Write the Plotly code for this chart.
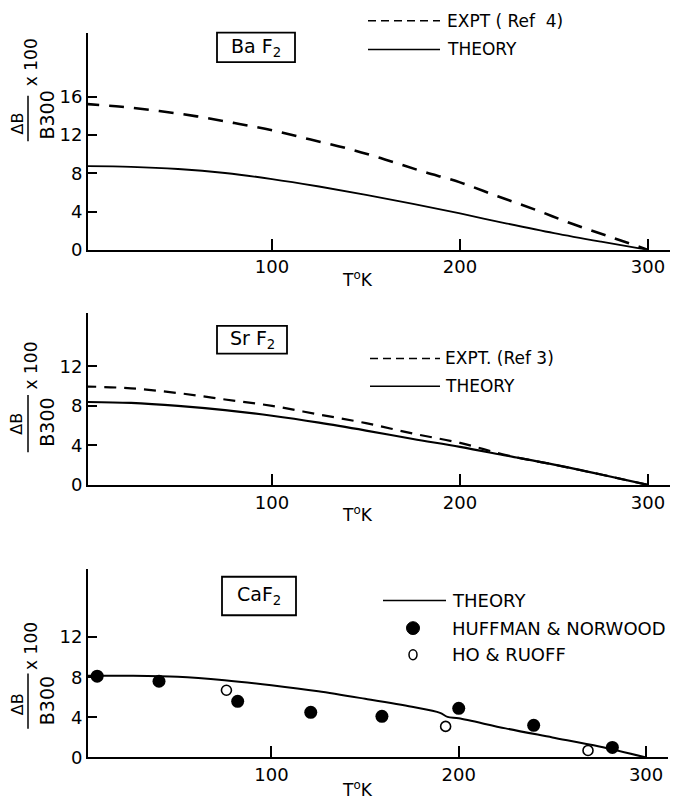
import plotly.graph_objects as go

W, H = 673, 806

# ---------------- data ----------------
baf2_T_expt = [0, 20, 40, 60, 80, 100, 120, 140, 160, 180, 200, 220, 240, 260, 280, 300]
baf2_expt = [15.25, 14.95, 14.5, 13.95, 13.25, 12.5, 11.55, 10.6, 9.45, 8.2, 7.05, 5.6, 4.2, 2.7, 1.35, 0]
baf2_T_theory = [0, 25, 50, 75, 100, 125, 150, 175, 200, 225, 250, 275, 300]
baf2_theory = [8.75, 8.68, 8.45, 8.03, 7.4, 6.62, 5.75, 4.8, 3.8, 2.75, 1.75, 0.85, 0]

srf2_T = [0, 25, 50, 75, 100, 125, 150, 175, 200, 225, 250, 275, 300]
srf2_expt = [9.97, 9.78, 9.3, 8.65, 8.0, 7.13, 6.25, 5.2, 4.25, 3.0, 2.05, 1.05, 0]
srf2_theory = [8.4, 8.3, 8.0, 7.57, 7.0, 6.3, 5.5, 4.65, 3.85, 2.95, 2.05, 1.05, 0]

caf2_T_theory = [0, 25, 50, 75, 100, 125, 150, 175, 190, 194, 200, 225, 250, 275, 300]
caf2_theory = [8.15, 8.15, 8.05, 7.7, 7.2, 6.6, 5.85, 5.05, 4.45, 4.05, 3.9, 2.9, 2.0, 1.1, 0]

hn_T = [7, 40, 82, 121, 159, 200, 240, 282]          # HUFFMAN & NORWOOD
hn_val = [8.1, 7.6, 5.6, 4.5, 4.1, 4.9, 3.2, 1.0]
hr_T = [76, 193, 269]                                # HO & RUOFF
hr_val = [6.7, 3.1, 0.7]

x_ticks = [100, 200, 300]
y_ticks_1 = [0, 4, 8, 12, 16]
y_ticks_23 = [0, 4, 8, 12]

FONT = "DejaVu Sans"


def fx(px):
    return px / W


def fy(py):
    return 1 - py / H


fig = go.Figure()

# ---------------- traces ----------------
fig.add_trace(go.Scatter(x=baf2_T_expt, y=baf2_expt, mode="lines", xaxis="x", yaxis="y",
                         line=dict(color="black", width=2.6, dash="15px,10px", shape="spline")))
fig.add_trace(go.Scatter(x=baf2_T_theory, y=baf2_theory, mode="lines", xaxis="x", yaxis="y",
                         line=dict(color="black", width=1.8, shape="spline")))

fig.add_trace(go.Scatter(x=srf2_T, y=srf2_expt, mode="lines", xaxis="x2", yaxis="y2",
                         line=dict(color="black", width=2.2, dash="12px,8px", shape="spline")))
fig.add_trace(go.Scatter(x=srf2_T, y=srf2_theory, mode="lines", xaxis="x2", yaxis="y2",
                         line=dict(color="black", width=2.2, shape="spline")))

fig.add_trace(go.Scatter(x=caf2_T_theory, y=caf2_theory, mode="lines", xaxis="x3", yaxis="y3",
                         line=dict(color="black", width=2, shape="spline", smoothing=0.9)))
fig.add_trace(go.Scatter(x=hn_T, y=hn_val, mode="markers", xaxis="x3", yaxis="y3",
                         marker=dict(symbol="circle", size=13, color="black"), cliponaxis=False))
fig.add_trace(go.Scatter(x=hr_T, y=hr_val, mode="markers", xaxis="x3", yaxis="y3",
                         marker=dict(symbol="circle-open", size=10, color="black",
                                     line=dict(width=1.6, color="black")), cliponaxis=False))

# ---------------- axes ----------------
common_x = dict(showline=True, linecolor="black", linewidth=2, ticks="inside", ticklen=11,
                tickwidth=2, tickcolor="black", tickvals=x_ticks, showgrid=False, zeroline=False,
                tickfont=dict(family=FONT, size=18, color="black"))
common_y = dict(showline=True, linecolor="black", linewidth=2, ticks="inside", ticklen=9,
                tickwidth=1.5, tickcolor="black", showgrid=False, zeroline=False,
                tickfont=dict(family=FONT, size=18, color="black"))

panels = [
    # (y top px, y bottom px, y max, x right px)
    (33, 253, 22.7, 670),
    (317, 491, 17.4, 670),
    (576, 767, 18.8, 668),
]
xr = [2.1, 311.7]
layout = {}
for i, (top, bot, ymax, xright) in enumerate(panels):
    sfx = "" if i == 0 else str(i + 1)
    layout["xaxis" + sfx] = dict(common_x, domain=[fx(88), fx(xright)], range=xr,
                                 anchor="y" + sfx)
    layout["yaxis" + sfx] = dict(common_y, domain=[fy(bot), fy(top)], range=[0, ymax],
                                 anchor="x" + sfx,
                                 tickvals=y_ticks_1 if i == 0 else y_ticks_23)

fig.update_layout(**layout)

# ---------------- annotations / decorations ----------------
ann = []
shapes = []


def text(x, y, s, size=17, xanchor="center", angle=0):
    ann.append(dict(x=fx(x), y=fy(y), xref="paper", yref="paper", text=s, showarrow=False,
                    xanchor=xanchor, yanchor="middle", textangle=angle,
                    font=dict(family=FONT, size=size, color="black")))


def hline(x0, x1, y, dash="solid", width=1.5):
    shapes.append(dict(type="line", xref="paper", yref="paper", x0=fx(x0), x1=fx(x1),
                       y0=fy(y), y1=fy(y), line=dict(color="black", width=width, dash=dash)))


def vline(x, y0, y1, width=1.5):
    shapes.append(dict(type="line", xref="paper", yref="paper", x0=fx(x), x1=fx(x),
                       y0=fy(y0), y1=fy(y1), line=dict(color="black", width=width)))


def box(x0, y0, x1, y1):
    shapes.append(dict(type="rect", xref="paper", yref="paper", x0=fx(x0), x1=fx(x1),
                       y0=fy(y1), y1=fy(y0), line=dict(color="black", width=1.8)))


# y-axis titles (rotated fraction)
for (dby, line0, line1, b300y, x100y) in [(125, 97, 143, 117, 63),
                                          (429, 400, 458, 428, 370),
                                          (713, 682, 738, 710, 654)]:
    text(17, dby, "ΔB", size=16, angle=-90)
    vline(28, line0, line1, width=1.5)
    text(47, b300y, "B300", size=19, angle=-90)
    text(31, x100y, "x 100", size=17, angle=-90)

# x-axis titles
for y in [282, 520, 799]:
    text(357, y, "T<sup>o</sup>K", size=17)

# compound boxes
box(217, 33, 295, 63)
text(256, 48, "Ba F<sub>2</sub>", size=19)
box(217, 330, 287, 358)
text(252, 344, "Sr F<sub>2</sub>", size=19)
box(222, 584, 296, 623)
text(259, 603, "CaF<sub>2</sub>", size=19)

# legends
hline(368, 440, 21, dash="8px,5px")
text(445, 21, "EXPT ( Ref  4)", xanchor="left")
hline(368, 440, 50)
text(445, 50, "THEORY", xanchor="left")

hline(370, 440, 363, dash="8px,5px")
text(443, 363, "EXPT. (Ref 3)", xanchor="left")
hline(370, 440, 391)
text(443, 391, "THEORY", xanchor="left")

hline(383, 446, 608)
text(450, 608, "THEORY", size=18, xanchor="left")
shapes.append(dict(type="circle", xref="paper", yref="paper", x0=fx(406.5), x1=fx(419.5),
                   y0=fy(642.5), y1=fy(629.5), fillcolor="black", line=dict(color="black", width=1)))
text(450, 636, "HUFFMAN & NORWOOD", size=18, xanchor="left")
shapes.append(dict(type="circle", xref="paper", yref="paper", x0=fx(409), x1=fx(417),
                   y0=fy(668), y1=fy(658), line=dict(color="black", width=1.5)))
text(450, 663, "HO & RUOFF", size=18, xanchor="left")

fig.update_layout(
    width=W, height=H,
    margin=dict(l=0, r=0, t=0, b=0),
    paper_bgcolor="white", plot_bgcolor="white",
    showlegend=False,
    annotations=ann, shapes=shapes,
)

fig.write_html("out.html",
               config={"displayModeBar": False},
               post_script="document.body.style.margin='0';document.body.style.padding='0';"
                           "document.body.style.overflow='hidden';")
